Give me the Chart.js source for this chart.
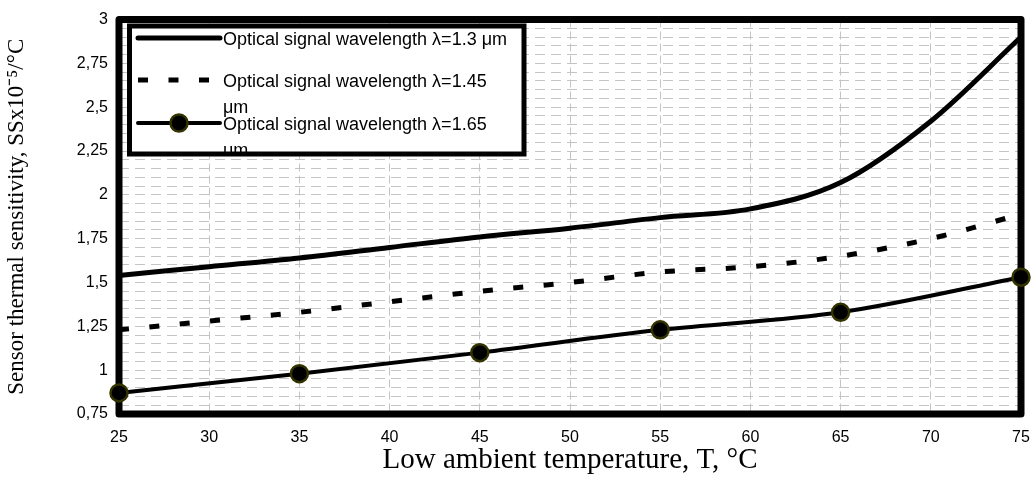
<!DOCTYPE html>
<html>
<head>
<meta charset="utf-8">
<script src="https://cdn.jsdelivr.net/npm/chart.js@4.4.1/dist/chart.umd.min.js"></script>
<style>
  html, body { margin: 0; padding: 0; background: #fff; }
  #wrap { width: 1032px; height: 482px; }
</style>
</head>
<body>
<div id="wrap"><canvas id="sensChart" width="1032" height="482"></canvas></div>
<script>
// temperatures, °C
const temps = [25, 30, 35, 40, 45, 50, 55, 60, 65, 70, 75];
// sensitivity SS x10^-5 /°C
const sens130 = [1.54, 1.59, 1.64, 1.70, 1.76, 1.81, 1.87, 1.92, 2.07, 2.42, 2.90];
const sens145 = [1.23, 1.28, 1.33, 1.39, 1.45, 1.50, 1.56, 1.59, 1.65, 1.75, 1.89];
// the 1.65 curve only has the marked points
const temps165 = [25, 35, 45, 55, 65, 75];
const sens165 = [0.87, 0.98, 1.10, 1.23, 1.33, 1.53];

const labels = [
    'Optical signal wavelength λ=1.3 μm',
    'Optical signal wavelength λ=1.45 μm',
    'Optical signal wavelength λ=1.65 μm'
];

function pts(xs, ys) {
    return xs.map(function (x, i) { return { x: x, y: ys[i] }; });
}

function fmtTick(v) {
    if (Math.abs(v * 4 - Math.round(v * 4)) > 1e-6) return '';
    return String(Math.round(v * 100) / 100).replace('.', ',');
}

// thick frame round the plot area
const framePlugin = {
    id: 'frame',
    beforeDatasetsDraw: function (chart) {
        const a = chart.chartArea, ctx = chart.ctx;
        ctx.save();
        ctx.lineWidth = 7;
        ctx.strokeStyle = '#000';
        ctx.lineJoin = 'round';
        ctx.strokeRect(a.left, a.top, a.right - a.left, a.bottom - a.top);
        ctx.restore();
    }
};

// legend box drawn by hand so long labels can wrap
const legendPlugin = {
    id: 'boxLegend',
    afterDatasetsDraw: function (chart) {
        const ctx = chart.ctx;
        const box = { l: 129.5, t: 26, r: 524, b: 154 };
        const rows = [38, 80, 123];
        ctx.save();
        ctx.fillStyle = '#fff';
        ctx.fillRect(box.l, box.t, box.r - box.l, box.b - box.t);
        ctx.beginPath();
        ctx.rect(box.l, box.t, box.r - box.l, box.b - box.t);
        ctx.clip();
        ctx.font = '18px "Liberation Sans", Arial, sans-serif';
        ctx.textBaseline = 'middle';
        chart.data.datasets.forEach(function (ds, i) {
            const y = rows[i];
            ctx.strokeStyle = '#000';
            ctx.lineWidth = ds.borderWidth;
            ctx.setLineDash(ds.borderDash || []);
            ctx.lineCap = ds.borderDash ? 'butt' : 'round';
            ctx.beginPath();
            ctx.moveTo(138, y);
            ctx.lineTo(220, y);
            ctx.stroke();
            ctx.setLineDash([]);
            if (ds.pointRadius > 0) {
                ctx.beginPath();
                ctx.arc(179, y, ds.pointRadius, 0, Math.PI * 2);
                ctx.fillStyle = ds.pointBackgroundColor;
                ctx.fill();
                ctx.lineWidth = ds.pointBorderWidth;
                ctx.strokeStyle = ds.pointBorderColor;
                ctx.stroke();
            }
            // simple word wrap
            const words = ds.label.split(' ');
            let line = '', lines = [];
            words.forEach(function (w) {
                const test = line ? line + ' ' + w : w;
                if (ctx.measureText(test).width > 290 && line) {
                    lines.push(line);
                    line = w;
                } else {
                    line = test;
                }
            });
            lines.push(line);
            ctx.fillStyle = '#000';
            lines.forEach(function (s, k) {
                ctx.fillText(s, 223, y + 2 + k * 26);
            });
        });
        ctx.restore();
        ctx.save();
        ctx.lineWidth = 5;
        ctx.strokeStyle = '#000';
        ctx.strokeRect(box.l, box.t, box.r - box.l, box.b - box.t);
        ctx.restore();
    }
};

const ctx = document.getElementById('sensChart').getContext('2d');
new Chart(ctx, {
    type: 'line',
    data: {
        datasets: [{
            label: labels[0],
            data: pts(temps, sens130),
            borderColor: '#000',
            borderWidth: 5,
            pointRadius: 0,
            cubicInterpolationMode: 'monotone',
            clip: false
        }, {
            label: labels[1],
            data: pts(temps, sens145),
            borderColor: '#000',
            borderWidth: 5,
            borderDash: [10, 20.5],
            pointRadius: 0,
            cubicInterpolationMode: 'monotone',
            clip: false
        }, {
            label: labels[2],
            data: pts(temps165, sens165),
            borderColor: '#000',
            borderWidth: 4,
            pointRadius: 8.5,
            pointBackgroundColor: '#000',
            pointBorderColor: '#333300',
            pointBorderWidth: 2.5,
            cubicInterpolationMode: 'monotone',
            clip: false
        }]
    },
    options: {
        responsive: false,
        animation: false,
        layout: { padding: { top: 19.5, right: 5, left: 0, bottom: 0 } },
        plugins: {
            legend: { display: false },
            tooltip: { enabled: false }
        },
        scales: {
            x: {
                type: 'linear',
                min: 25,
                max: 75,
                ticks: {
                    stepSize: 5,
                    color: '#000',
                    padding: 14,
                    font: { family: '"Liberation Sans", Arial, sans-serif', size: 16 }
                },
                grid: { color: '#c4c4c4', lineWidth: 1, drawTicks: false },
                border: { display: false, dash: [8, 4] },
                title: {
                    display: true,
                    text: 'Low ambient temperature, T, °C',
                    color: '#000',
                    padding: { top: 0, bottom: 4 },
                    font: { family: '"Liberation Serif", "Times New Roman", serif', size: 29 }
                },
                afterFit: function (s) { s.height = 68; s.paddingLeft = 0; s.paddingRight = 0; }
            },
            y: {
                min: 0.75,
                max: 3,
                ticks: {
                    stepSize: 0.05,
                    autoSkip: false,
                    color: '#000',
                    padding: 11,
                    callback: fmtTick,
                    font: { family: '"Liberation Sans", Arial, sans-serif', size: 16 }
                },
                grid: { color: '#c4c4c4', lineWidth: 1, drawTicks: false },
                border: { display: false, dash: [10, 6] },
                title: {
                    display: true,
                    text: 'Sensor thermal sensitivity, SSx10⁻⁵/°C',
                    color: '#000',
                    padding: { top: 3, bottom: 0 },
                    font: { family: '"Liberation Serif", "Times New Roman", serif', size: 23 }
                },
                afterFit: function (s) { s.width = 119; s.paddingTop = 0; s.paddingBottom = 0; }
            }
        }
    },
    plugins: [framePlugin, legendPlugin]
});
</script>
</body>
</html>
